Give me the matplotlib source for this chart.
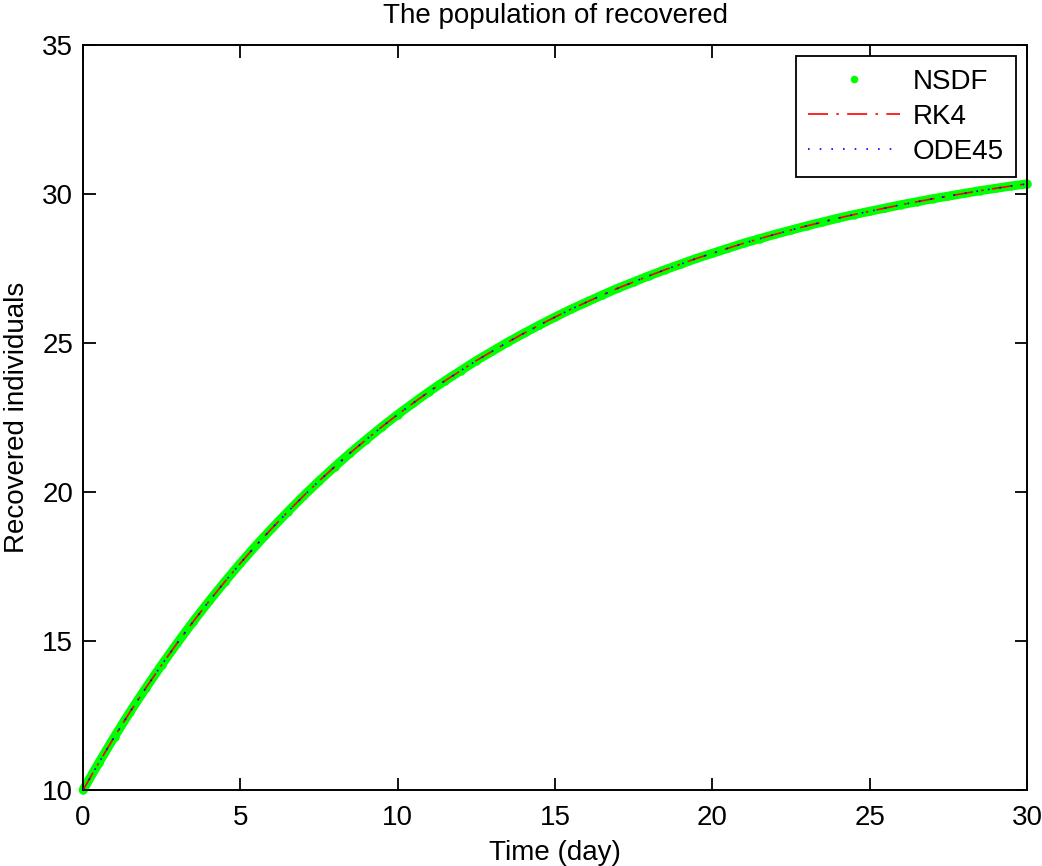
"""
recovered population: NSDF vs RK4 vs ODE45
"""

import numpy as np
import matplotlib.pyplot as plt
import matplotlib as mpl

mpl.rcParams['font.family'] = ['Liberation Sans', 'DejaVu Sans']
mpl.rcParams['font.size'] = 20
mpl.rcParams['axes.linewidth'] = 1.4
mpl.rcParams['xtick.direction'] = 'in'
mpl.rcParams['ytick.direction'] = 'in'
mpl.rcParams['xtick.major.size'] = 9
mpl.rcParams['ytick.major.size'] = 9
mpl.rcParams['xtick.major.width'] = 1.3
mpl.rcParams['ytick.major.width'] = 1.3

# time in days, half-day steps
t = np.arange(0, 30.5, 0.5)

# recovered individuals (all three schemes overlap)
recovered = [10.00, 10.91, 11.79, 12.63, 13.43, 14.20, 14.94, 15.65, 16.33, 16.98,
             17.61, 18.21, 18.78, 19.33, 19.86, 20.37, 20.85, 21.32, 21.76, 22.19,
             22.60, 22.99, 23.37, 23.73, 24.07, 24.41, 24.72, 25.03, 25.32, 25.60,
             25.87, 26.13, 26.37, 26.61, 26.84, 27.05, 27.26, 27.46, 27.65, 27.84,
             28.01, 28.18, 28.35, 28.50, 28.65, 28.79, 28.93, 29.06, 29.19, 29.31,
             29.42, 29.53, 29.64, 29.74, 29.84, 29.93, 30.02, 30.11, 30.19, 30.27,
             30.34]
nsdf = recovered
rk4 = recovered
ode45 = recovered

fig = plt.figure(figsize=(10.42, 8.66), dpi=100)
ax = fig.add_axes([0.0797, 0.0878, 0.9059, 0.8602])

# NSDF: dense dots that merge into a thick green band
ax.plot(t, nsdf, color='#00ff00', lw=6.5, solid_capstyle='round', zorder=2, clip_on=False)
ax.plot(t, nsdf, '.', color='#00ff00', ms=10, label='NSDF', zorder=2, clip_on=False)
ax.plot(t, rk4, color='red', lw=1.2, dashes=(12, 5, 1.5, 5), label='RK4', zorder=3)
ax.plot(t, ode45, color='blue', lw=1.2, dashes=(1, 6), label='ODE45', zorder=4)

ax.set_xlim(0, 30)
ax.set_ylim(10, 35)
ax.set_xticks(np.arange(0, 31, 5))
ax.set_yticks(np.arange(10, 36, 5))
ax.tick_params(top=True, right=True, pad=7)
ax.tick_params(axis='x', pad=11)

ax.set_title('The population of recovered', fontsize=20, pad=16)
ax.set_xlabel('Time (day)', labelpad=6)
ax.set_ylabel('Recovered individuals', labelpad=9)

leg = ax.legend(loc='upper right', fancybox=False, framealpha=1, edgecolor='black',
                borderpad=0.45, handlelength=3.3, handletextpad=0.45,
                labelspacing=0.33, borderaxespad=0.4)
leg.get_frame().set_linewidth(1.3)
leg.legend_handles[0].set_markersize(9)

plt.savefig('out.png')
